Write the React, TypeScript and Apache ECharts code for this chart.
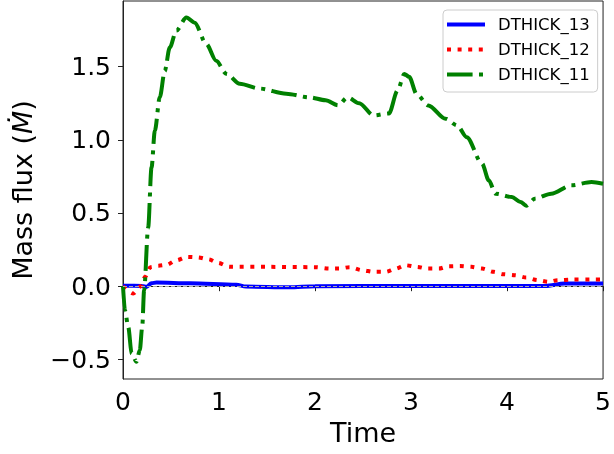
import React, { useEffect, useRef } from "react";
import * as echarts from "echarts";

const seriesNames = ["DTHICK_13", "DTHICK_12", "DTHICK_11"];
const seriesColors = ["#0000ff", "#ff0000", "#008000"];

const timeBlue = [0, 0.2, 0.243, 0.297, 0.35, 0.7, 1.18, 1.28, 1.73, 2.0, 3.0, 4.4, 4.6, 5.0];
const fluxBlue = [0.003, 0.002, -0.005, 0.02, 0.025, 0.02, 0.01, -0.003, -0.008, 0, 0.002, 0.002, 0.018, 0.018];

const timeRed = [0, 0.107, 0.185, 0.23, 0.286, 0.37, 0.45, 0.556, 0.666, 0.78, 0.89, 0.99, 1.11, 1.5, 2.0, 2.15, 2.25, 2.36, 2.49, 2.61, 2.74, 2.84, 2.94, 3.06, 3.17, 3.29, 3.39, 3.51, 3.63, 3.74, 3.86, 3.96, 4.08, 4.2, 4.32, 4.43, 4.53, 4.67, 4.88, 5.0];
const fluxRed = [0, -0.05, 0, 0.064, 0.13, 0.14, 0.145, 0.177, 0.2, 0.197, 0.184, 0.159, 0.132, 0.132, 0.13, 0.12, 0.12, 0.13, 0.109, 0.098, 0.098, 0.12, 0.143, 0.132, 0.12, 0.12, 0.136, 0.138, 0.132, 0.12, 0.098, 0.082, 0.075, 0.059, 0.041, 0.03, 0.041, 0.045, 0.045, 0.045];

const timeGreen = [0, 0.02, 0.055, 0.09, 0.14, 0.175, 0.2, 0.22, 0.262, 0.297, 0.332, 0.383, 0.435, 0.487, 0.556, 0.66, 0.746, 0.867, 0.97, 1.078, 1.216, 1.42, 1.7, 1.94, 2.11, 2.24, 2.34, 2.46, 2.61, 2.77, 2.86, 2.93, 2.98, 3.06, 3.18, 3.36, 3.48, 3.58, 3.74, 3.81, 3.88, 4.05, 4.14, 4.2, 4.29, 4.46, 4.67, 4.88, 5.0];
const fluxGreen = [0, -0.164, -0.28, -0.46, -0.516, -0.437, -0.28, -0.027, 0.4, 0.81, 1.064, 1.29, 1.47, 1.63, 1.746, 1.835, 1.8, 1.655, 1.54, 1.45, 1.383, 1.35, 1.315, 1.29, 1.27, 1.235, 1.29, 1.25, 1.166, 1.18, 1.337, 1.45, 1.43, 1.31, 1.235, 1.144, 1.098, 1.018, 0.837, 0.723, 0.632, 0.609, 0.575, 0.55, 0.598, 0.632, 0.689, 0.711, 0.7];

const yTicks = [-0.5, 0, 0.5, 1.0, 1.5];

const FONT = "DejaVu Sans";

function pairs(t: number[], v: number[]) {
  return t.map((x, i) => [x, v[i]]);
}

const legendIcons = [
  "path://M0,0H38V4H0Z",
  "path://M0,0H4V4H0ZM10.6,0H14.6V4H10.6ZM21.2,0H25.2V4H21.2ZM31.8,0H35.8V4H31.8ZM38,0H38.01V4H38Z",
  "path://M0,0H25.6V4H0ZM32,0H36V4H32ZM38,0H38.01V4H38Z",
];

export default function App() {
  const ref = useRef<HTMLDivElement>(null);
  useEffect(() => {
    if (!ref.current) return;
    const chart = echarts.init(ref.current, undefined, { renderer: "svg" });
    const dashes: any[] = ["solid", [4, 6.6], [25.6, 6.4, 4, 6.4]];
    const datasets = [pairs(timeBlue, fluxBlue), pairs(timeRed, fluxRed), pairs(timeGreen, fluxGreen)];
    chart.setOption({
      animation: false,
      textStyle: { fontFamily: FONT },
      grid: {
        left: 123,
        right: 9,
        top: 1,
        bottom: 75,
        show: true,
        borderColor: "#222",
        borderWidth: 1,
        backgroundColor: "transparent",
      },
      legend: {
        orient: "vertical",
        left: 443,
        top: 10,
        padding: [6, 8, 9, 4],
        itemGap: 8,
        itemWidth: 38,
        itemHeight: 4,
        borderColor: "#cccccc",
        borderWidth: 1,
        borderRadius: 4,
        backgroundColor: "rgba(255,255,255,0.8)",
        textStyle: { fontFamily: FONT, fontSize: 16.5, color: "#000", padding: [0, 0, 0, 8], lineHeight: 17 },
        data: seriesNames.map((name, i) => ({
          name,
          icon: legendIcons[i],
          itemStyle: { color: seriesColors[i], borderWidth: 0 },
        })),
      },
      xAxis: {
        type: "value",
        min: 0,
        max: 5,
        interval: 1,
        name: "Time",
        nameLocation: "middle",
        nameGap: 40,
        nameTextStyle: { fontFamily: FONT, fontSize: 27, color: "#000" },
        axisLine: { show: true, lineStyle: { color: "#222", width: 1 } },
        axisTick: { show: true, length: 5, lineStyle: { color: "#222" } },
        axisLabel: { fontFamily: FONT, fontSize: 25, color: "#000", margin: 10 },
        splitLine: { show: false },
      },
      yAxis: {
        type: "value",
        min: -0.634,
        max: 1.948,
        name: "Mass flux ({i|Ṁ})",
        nameLocation: "middle",
        nameGap: 87,
        nameRotate: 90,
        nameTextStyle: {
          fontFamily: FONT,
          fontSize: 27,
          color: "#000",
          rich: { i: { fontFamily: FONT, fontSize: 27, fontStyle: "italic", color: "#000" } },
        },
        axisLine: { show: true, lineStyle: { color: "#222", width: 1 } },
        axisTick: { show: true, length: 5, customValues: yTicks, lineStyle: { color: "#222" } },
        axisLabel: {
          fontFamily: FONT,
          fontSize: 25,
          color: "#000",
          margin: 12,
          customValues: yTicks,
          formatter: (v: number) => v.toFixed(1).replace("-", "\u2212"),
        },
        splitLine: { show: false },
      },
      series: seriesNames.map((name, i) => ({
        name,
        type: "line",
        data: datasets[i],
        showSymbol: false,
        symbol: "none",
        smooth: 0.3,
        smoothMonotone: "x",
        z: 2 + i,
        lineStyle: { color: seriesColors[i], width: 4, type: dashes[i], cap: "butt" },
        itemStyle: { color: seriesColors[i] },
        markLine:
          i === 2
            ? {
                silent: true,
                symbol: "none",
                label: { show: false },
                lineStyle: { color: "#aaaaaa", width: 1, type: [4, 2] },
                data: [{ yAxis: 0 }],
              }
            : undefined,
      })),
    });
    return () => chart.dispose();
  }, []);
  return <div ref={ref} style={{ position: "fixed", left: 0, top: 0, width: 614, height: 454 }} />;
}
